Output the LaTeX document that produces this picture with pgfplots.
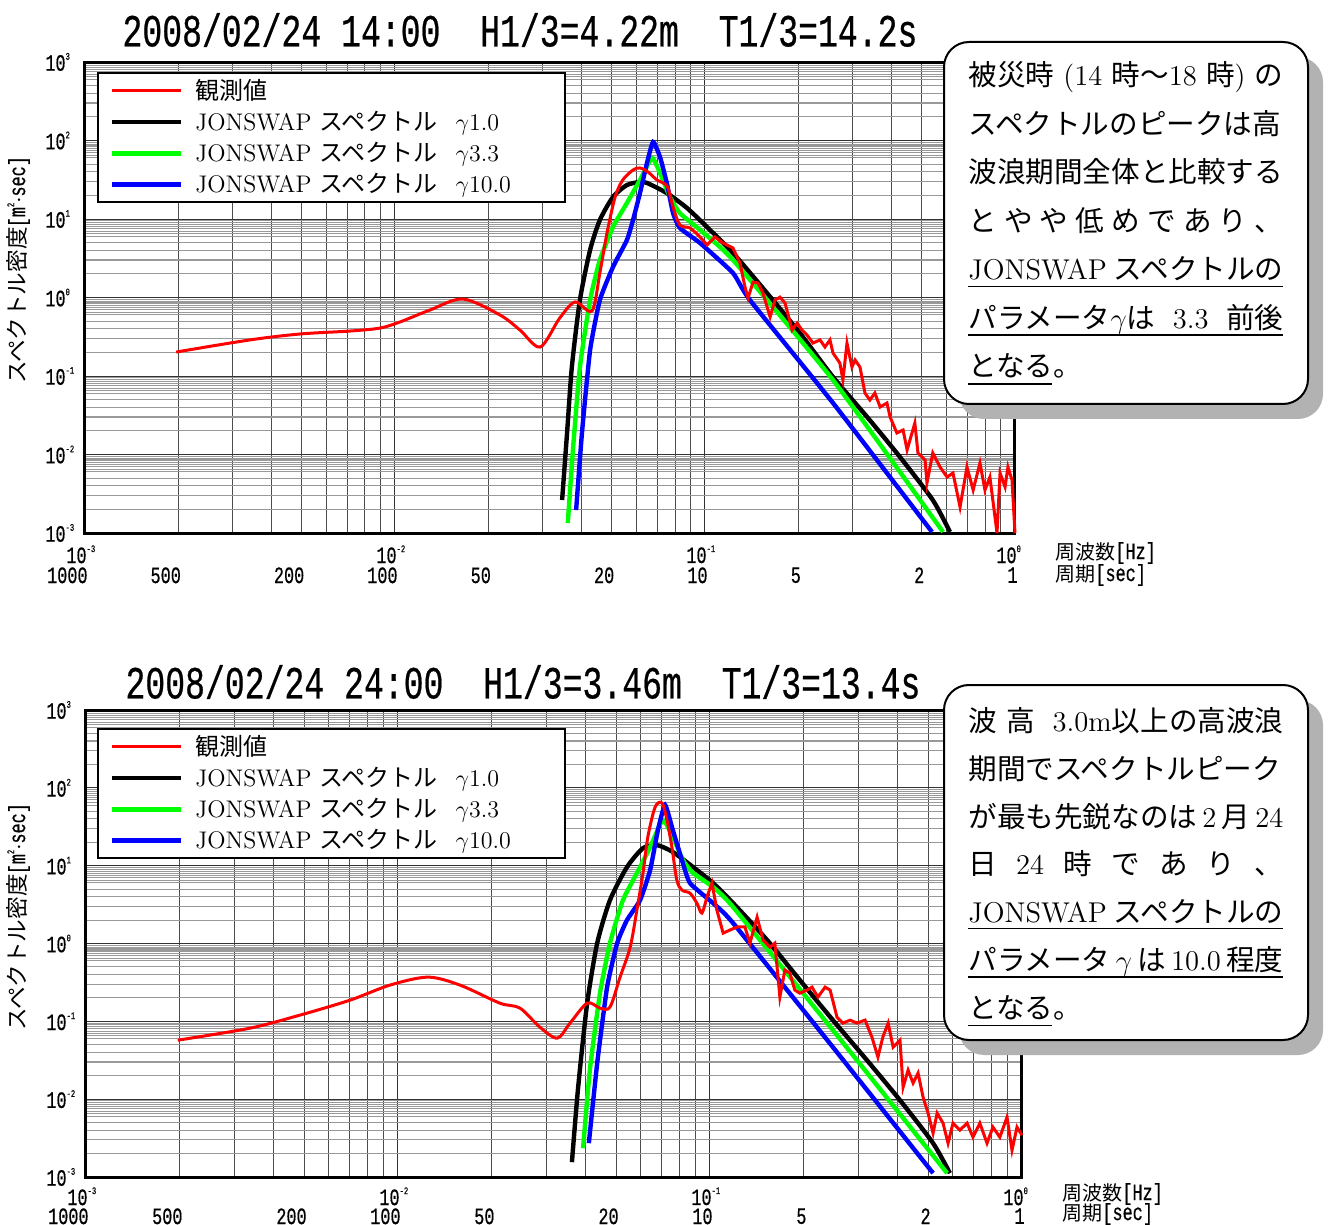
\documentclass[border=0pt]{standalone}
\usepackage{pgfplots}
\pgfplotsset{compat=1.18}
\usepackage{fontspec}
\newfontfamily\cjk{Noto Sans CJK JP}
\newfontfamily\tfont[FakeStretch=0.72,FakeBold=0.5]{Liberation Mono}
\newcommand\titlefont{\tfont\fontsize{23}{23}\selectfont}
\newcommand\tickfont{\tfont\fontsize{11.7}{11.7}\selectfont}
\newcommand\ex[1]{\rlap{\raisebox{5.5pt}{\tfont\fontsize{5}{5}\selectfont #1}}}
\newcommand\tl[1]{10\ex{#1}}
\newlength\bw \setlength\bw{157.5pt}
\newcommand\bl[1]{\hbox to \bw{#1}}
\definecolor{jgreen}{RGB}{0,255,0}
\definecolor{jblue}{RGB}{0,0,255}
\definecolor{jred}{RGB}{255,0,0}
\tikzset{ticklab/.style={inner sep=0pt, font=\tickfont}}

\begin{document}
\begin{tikzpicture}
\path[use as bounding box] (0,0) rectangle (665pt,-612.5pt);

% ---------------- Plot 1 ----------------
\begin{axis}[at={(42.5pt,-266.5pt)}, anchor=south west,
  width=465pt, height=235.5pt,
  xmode=log, ymode=log,
  xmin=1e-3, xmax=1, ymin=1e-3, ymax=1e3,
  scale only axis, clip=false,
  axis line style={line width=1.5pt},
  xtick={1e-3,1e-2,1e-1,1},
  ytick={1e-3,1e-2,1e-1,1,1e1,1e2,1e3},
  minor xtick={0.002,0.003,0.004,0.005,0.006,0.007,0.008,0.009,0.02,0.03,0.04,0.05,0.06,0.07,0.08,0.09,0.2,0.3,0.4,0.5,0.6,0.7,0.8,0.9},
  minor ytick={0.002,0.003,0.004,0.005,0.006,0.0065,0.007,0.0075,0.008,0.0085,0.009,0.0095,0.02,0.03,0.04,0.05,0.06,0.065,0.07,0.075,0.08,0.085,0.09,0.095,0.2,0.3,0.4,0.5,0.6,0.65,0.7,0.75,0.8,0.85,0.9,0.95,2,3,4,5,6,6.5,7,7.5,8,8.5,9,9.5,20,30,40,50,60,65,70,75,80,85,90,95,200,300,400,500,600,650,700,750,800,850,900,950},
  xticklabels={}, yticklabels={},
  major tick length=0pt, minor tick length=0pt,
  xmajorgrids, ymajorgrids, xminorgrids, yminorgrids,
  major grid style={black!80, line width=0.5pt},
  minor x grid style={black!70, line width=0.45pt},
  minor y grid style={black!40, line width=0.55pt},
  legend style={at={(0,1)}, anchor=north west, xshift=6pt, yshift=-5pt, draw=black, line width=1pt,
    fill=white, inner xsep=6pt, inner ysep=3pt, row sep=4.4pt,
    font=\fontsize{12}{12}\selectfont, nodes={inner sep=0pt}},
  legend cell align=left,
  legend image code/.code={\draw[#1] (0pt,0pt) -- (34.5pt,0pt); \path (40.5pt,0pt);},
  ]
\addlegendimage{jred, line width=1.6pt}
\addlegendentry{\makebox[179pt][l]{\cjk 観測値}}
\addlegendimage{black, line width=2.2pt}
\addlegendentry{\makebox[179pt][l]{JONSWAP {\cjk スペクトル}\hspace{9pt}$\gamma$1.0}}
\addlegendimage{jgreen, line width=2.2pt}
\addlegendentry{\makebox[179pt][l]{JONSWAP {\cjk スペクトル}\hspace{9pt}$\gamma$3.3}}
\addlegendimage{jblue, line width=2.2pt}
\addlegendentry{\makebox[179pt][l]{JONSWAP {\cjk スペクトル}\hspace{9pt}$\gamma$10.0}}

\addplot[black, line width=2.2pt, smooth, tension=0.4, forget plot] coordinates {
(0.0346,0.00263) (0.0359,0.0188) (0.0372,0.130) (0.0395,0.929) (0.0426,4.03)
(0.0458,9.71) (0.0505,19.1) (0.0560,27.1) (0.0617,29.6) (0.0650,28.8)
(0.0753,21.4) (0.0875,13.8) (0.1015,7.91) (0.1231,3.69) (0.1585,1.14)
(0.2023,0.353) (0.2588,0.0971) (0.3334,0.0301) (0.4256,0.00929) (0.543,0.00263) (0.617,0.00103)};
\addplot[jgreen, line width=2.2pt, smooth, tension=0.3, forget plot] coordinates {
(0.0361,0.00134) (0.0375,0.0114) (0.0395,0.130) (0.0426,0.929) (0.0458,3.01)
(0.0505,7.91) (0.0560,16.0) (0.0617,31.4) (0.0675,59.8) (0.0716,38.5)
(0.0771,19.1) (0.0830,11.9) (0.0964,7.24) (0.1231,3.01) (0.2588,0.0889) (0.586,0.00103)};
\addplot[jblue, line width=2.2pt, smooth, tension=0.3, forget plot] coordinates {
(0.0384,0.00196) (0.0401,0.0188) (0.0426,0.214) (0.0458,0.929) (0.0505,2.45)
(0.0560,5.40) (0.0586,9.71) (0.0617,21.4) (0.0650,51.7) (0.0680,95.7)
(0.0716,61.7) (0.0753,28.8) (0.0789,11.9) (0.0830,7.68) (0.0964,4.94)
(0.1231,2.05) (0.1396,0.929) (0.2588,0.0453) (0.540,0.00103)};
\addplot[jred, line width=1.5pt, smooth, tension=0.5, forget plot] coordinates {
(0.00197,0.202) (0.00340,0.288) (0.00494,0.343) (0.00716,0.374) (0.00895,0.408)
(0.01038,0.488) (0.01297,0.693) (0.01656,0.957) (0.02183,0.598) (0.0253,0.385)
(0.0294,0.234) (0.0340,0.548) (0.0381,0.877) (0.0432,0.673) (0.0458,2.05)
(0.0483,6.64) (0.0513,19.1) (0.0543,31.4) (0.0586,42.1) (0.0617,44.7)
(0.0655,39.7) (0.0700,31.4) (0.0733,28.8) (0.0760,24.8) (0.0789,14.2)
(0.0830,8.39) (0.0895,7.68) (0.0964,5.90)};
\addplot[jred, line width=1.5pt, forget plot] coordinates {
(0.0964,5.90) (0.1015,4.67) (0.1077,5.90)
(0.1143,4.94) (0.1231,4.27) (0.1297,2.75) (0.1346,1.36) (0.1377,0.986)
(0.1429,1.57) (0.1482,1.53) (0.1538,1.14) (0.1622,0.565) (0.1683,0.929)
(0.1746,1.01) (0.1812,0.851) (0.1910,0.385) (0.1982,0.473) (0.2056,0.385)
(0.2133,0.333) (0.2230,0.263) (0.2350,0.288) (0.2438,0.234) (0.2530,0.288)
(0.2588,0.196) (0.2723,0.1466) (0.2786,0.0889) (0.2871,0.263) (0.2979,0.130)
(0.3048,0.160) (0.3162,0.130) (0.3281,0.0607) (0.3404,0.0494) (0.3532,0.0607)
(0.3673,0.0403) (0.3864,0.0453) (0.3954,0.0301) (0.4159,0.0188) (0.4355,0.0205)
(0.4487,0.0114) (0.4753,0.0252) (0.4864,0.01045) (0.5129,0.00851) (0.520,0.00434)
(0.543,0.01045) (0.573,0.00693) (0.604,0.00516) (0.631,0.00581) (0.665,0.00214)
(0.700,0.00693) (0.733,0.00353) (0.771,0.00780) (0.800,0.00353) (0.830,0.00516)
(0.875,0.00100) (0.895,0.00581) (0.929,0.00386) (0.949,0.00693) (0.978,0.00473) (1.0,0.00100)};

\node[ticklab, anchor=east, xshift=-9.5pt] at (axis cs:1e-3,1e3) {\tl{3}};
\node[ticklab, anchor=east, xshift=-9.5pt] at (axis cs:1e-3,1e2) {\tl{2}};
\node[ticklab, anchor=east, xshift=-9.5pt] at (axis cs:1e-3,1e1) {\tl{1}};
\node[ticklab, anchor=east, xshift=-9.5pt] at (axis cs:1e-3,1) {\tl{0}};
\node[ticklab, anchor=east, xshift=-9.5pt] at (axis cs:1e-3,1e-1) {\tl{-1}};
\node[ticklab, anchor=east, xshift=-9.5pt] at (axis cs:1e-3,1e-2) {\tl{-2}};
\node[ticklab, anchor=east, xshift=-9.5pt] at (axis cs:1e-3,1e-3) {\tl{-3}};
\node[ticklab, anchor=north east, xshift=1pt, yshift=-6pt] at (axis cs:1e-3,1e-3) {\tl{-3}};
\node[ticklab, anchor=north east, xshift=1pt, yshift=-6pt] at (axis cs:1e-2,1e-3) {\tl{-2}};
\node[ticklab, anchor=north east, xshift=1pt, yshift=-6pt] at (axis cs:1e-1,1e-3) {\tl{-1}};
\node[ticklab, anchor=north east, xshift=1pt, yshift=-6pt] at (axis cs:1,1e-3) {\tl{0}};
\node[ticklab, anchor=north east, xshift=1.5pt, yshift=-17pt] at (axis cs:1e-3,1e-3) {1000};
\node[ticklab, anchor=north east, xshift=1.5pt, yshift=-17pt] at (axis cs:2e-3,1e-3) {500};
\node[ticklab, anchor=north east, xshift=1.5pt, yshift=-17pt] at (axis cs:5e-3,1e-3) {200};
\node[ticklab, anchor=north east, xshift=1.5pt, yshift=-17pt] at (axis cs:1e-2,1e-3) {100};
\node[ticklab, anchor=north east, xshift=1.5pt, yshift=-17pt] at (axis cs:2e-2,1e-3) {50};
\node[ticklab, anchor=north east, xshift=1.5pt, yshift=-17pt] at (axis cs:5e-2,1e-3) {20};
\node[ticklab, anchor=north east, xshift=1.5pt, yshift=-17pt] at (axis cs:1e-1,1e-3) {10};
\node[ticklab, anchor=north east, xshift=1.5pt, yshift=-17pt] at (axis cs:2e-1,1e-3) {5};
\node[ticklab, anchor=north east, xshift=1.5pt, yshift=-17pt] at (axis cs:5e-1,1e-3) {2};
\node[ticklab, anchor=north east, xshift=1.5pt, yshift=-17pt] at (axis cs:1,1e-3) {1};
\end{axis}

% ---------------- Plot 2 ----------------
\begin{axis}[at={(43pt,-588.5pt)}, anchor=south west,
  width=468pt, height=233.5pt,
  xmode=log, ymode=log,
  xmin=1e-3, xmax=1, ymin=1e-3, ymax=1e3,
  scale only axis, clip=false,
  axis line style={line width=1.5pt},
  xtick={1e-3,1e-2,1e-1,1},
  ytick={1e-3,1e-2,1e-1,1,1e1,1e2,1e3},
  minor xtick={0.002,0.003,0.004,0.005,0.006,0.007,0.008,0.009,0.02,0.03,0.04,0.05,0.06,0.07,0.08,0.09,0.2,0.3,0.4,0.5,0.6,0.7,0.8,0.9},
  minor ytick={0.002,0.003,0.004,0.005,0.006,0.0065,0.007,0.0075,0.008,0.0085,0.009,0.0095,0.02,0.03,0.04,0.05,0.06,0.065,0.07,0.075,0.08,0.085,0.09,0.095,0.2,0.3,0.4,0.5,0.6,0.65,0.7,0.75,0.8,0.85,0.9,0.95,2,3,4,5,6,6.5,7,7.5,8,8.5,9,9.5,20,30,40,50,60,65,70,75,80,85,90,95,200,300,400,500,600,650,700,750,800,850,900,950},
  xticklabels={}, yticklabels={},
  major tick length=0pt, minor tick length=0pt,
  xmajorgrids, ymajorgrids, xminorgrids, yminorgrids,
  major grid style={black!80, line width=0.5pt},
  minor x grid style={black!70, line width=0.45pt},
  minor y grid style={black!40, line width=0.55pt},
  legend style={at={(0,1)}, anchor=north west, xshift=5.5pt, yshift=-9pt, draw=black, line width=1pt,
    fill=white, inner xsep=6pt, inner ysep=3pt, row sep=4.4pt,
    font=\fontsize{12}{12}\selectfont, nodes={inner sep=0pt}},
  legend cell align=left,
  legend image code/.code={\draw[#1] (0pt,0pt) -- (34.5pt,0pt); \path (40.5pt,0pt);},
  ]
\addlegendimage{jred, line width=1.6pt}
\addlegendentry{\makebox[179pt][l]{\cjk 観測値}}
\addlegendimage{black, line width=2.2pt}
\addlegendentry{\makebox[179pt][l]{JONSWAP {\cjk スペクトル}\hspace{9pt}$\gamma$1.0}}
\addlegendimage{jgreen, line width=2.2pt}
\addlegendentry{\makebox[179pt][l]{JONSWAP {\cjk スペクトル}\hspace{9pt}$\gamma$3.3}}
\addlegendimage{jblue, line width=2.2pt}
\addlegendentry{\makebox[179pt][l]{JONSWAP {\cjk スペクトル}\hspace{9pt}$\gamma$10.0}}

\addplot[black, line width=2.2pt, smooth, tension=0.4, forget plot] coordinates {
(0.0361,0.00155) (0.0378,0.01426) (0.0404,0.1714) (0.0435,1.01) (0.0478,3.61)
(0.0542,9.59) (0.0610,16.8) (0.0676,18.4) (0.0760,15.0) (0.0883,9.59)
(0.1023,5.97) (0.1186,3.30) (0.1524,1.11) (0.1941,0.339) (0.2477,0.1036)
(0.3184,0.0317) (0.4064,0.00970) (0.5188,0.00272) (0.5875,0.00112)};
\addplot[jgreen, line width=2.2pt, smooth, tension=0.3, forget plot] coordinates {
(0.0392,0.00234) (0.0412,0.0236) (0.0444,0.230) (0.0478,1.01) (0.0526,3.61)
(0.0597,9.59) (0.0643,17.3) (0.0706,38.5) (0.0760,23.3) (0.0819,11.8)
(0.0883,8.04) (0.1023,5.31) (0.1186,2.94) (0.2477,0.0771) (0.5754,0.00112)};
\addplot[jblue, line width=2.2pt, smooth, tension=0.3, forget plot] coordinates {
(0.0409,0.00272) (0.0435,0.0290) (0.0468,0.275) (0.0504,1.01) (0.0542,2.00)
(0.0597,3.61) (0.0643,8.77) (0.0681,28.7) (0.0718,60.1) (0.0760,28.7)
(0.0813,11.8) (0.0863,5.97) (0.1023,3.30) (0.1186,1.83) (0.2477,0.0466) (0.5188,0.00112)};
\addplot[jred, line width=1.5pt, smooth, tension=0.5, forget plot] coordinates {
(0.00197,0.0573) (0.00336,0.0818) (0.00485,0.1202) (0.00702,0.1871) (0.00942,0.292)
(0.01247,0.370) (0.01581,0.292) (0.0212,0.1714) (0.0246,0.1479) (0.0285,0.0841)
(0.0324,0.0608) (0.0356,0.0948) (0.0404,0.1714) (0.0444,0.1479) (0.0478,0.1524)
(0.0515,0.370) (0.0555,0.899) (0.0583,2.69) (0.0610,8.04) (0.0632,23.3)
(0.0667,56.6) (0.0702,63.8) (0.0728,38.5) (0.0755,17.3) (0.0783,6.53)
(0.0813,4.85) (0.0863,4.44) (0.0908,3.30) (0.0942,2.46) (0.0977,3.94)};
\addplot[jred, line width=1.5pt, forget plot] coordinates {
(0.0977,3.94)
(0.1015,5.97) (0.1052,2.69) (0.1102,1.36) (0.1159,1.49) (0.1222,1.63)
(0.1294,1.63) (0.1343,1.01) (0.1416,2.18) (0.1479,1.11) (0.1556,0.899)
(0.1614,1.01) (0.1675,0.205) (0.1738,0.455) (0.1803,0.417) (0.1871,0.252)
(0.1941,0.230) (0.2046,0.252) (0.2123,0.275) (0.2218,0.205) (0.2339,0.275)
(0.2427,0.252) (0.2553,0.1132) (0.2667,0.0948) (0.2812,0.1036) (0.2958,0.0948)
(0.3141,0.1036) (0.3304,0.0627) (0.3454,0.0347) (0.3581,0.0627) (0.3724,0.0948)
(0.3864,0.0466) (0.4064,0.0573) (0.4159,0.01426) (0.4315,0.0236) (0.4477,0.0161)
(0.4645,0.0216) (0.4819,0.01062) (0.500,0.00661) (0.5188,0.00366) (0.5346,0.00661)
(0.5585,0.00492) (0.5794,0.00272) (0.6012,0.00492) (0.6324,0.00400) (0.6668,0.00492)
(0.6966,0.00325) (0.7328,0.00492) (0.7727,0.00272) (0.8072,0.00437) (0.8492,0.00325)
(0.8954,0.00587) (0.9290,0.00221) (0.9638,0.00437) (1.0,0.00344)};

\node[ticklab, anchor=east, xshift=-9.5pt] at (axis cs:1e-3,1e3) {\tl{3}};
\node[ticklab, anchor=east, xshift=-9.5pt] at (axis cs:1e-3,1e2) {\tl{2}};
\node[ticklab, anchor=east, xshift=-9.5pt] at (axis cs:1e-3,1e1) {\tl{1}};
\node[ticklab, anchor=east, xshift=-9.5pt] at (axis cs:1e-3,1) {\tl{0}};
\node[ticklab, anchor=east, xshift=-9.5pt] at (axis cs:1e-3,1e-1) {\tl{-1}};
\node[ticklab, anchor=east, xshift=-9.5pt] at (axis cs:1e-3,1e-2) {\tl{-2}};
\node[ticklab, anchor=east, xshift=-9.5pt] at (axis cs:1e-3,1e-3) {\tl{-3}};
\node[ticklab, anchor=north east, xshift=1pt, yshift=-5pt] at (axis cs:1e-3,1e-3) {\tl{-3}};
\node[ticklab, anchor=north east, xshift=1pt, yshift=-5pt] at (axis cs:1e-2,1e-3) {\tl{-2}};
\node[ticklab, anchor=north east, xshift=1pt, yshift=-5pt] at (axis cs:1e-1,1e-3) {\tl{-1}};
\node[ticklab, anchor=north east, xshift=1pt, yshift=-5pt] at (axis cs:1,1e-3) {\tl{0}};
\node[ticklab, anchor=north east, xshift=1.5pt, yshift=-15.5pt] at (axis cs:1e-3,1e-3) {1000};
\node[ticklab, anchor=north east, xshift=1.5pt, yshift=-15.5pt] at (axis cs:2e-3,1e-3) {500};
\node[ticklab, anchor=north east, xshift=1.5pt, yshift=-15.5pt] at (axis cs:5e-3,1e-3) {200};
\node[ticklab, anchor=north east, xshift=1.5pt, yshift=-15.5pt] at (axis cs:1e-2,1e-3) {100};
\node[ticklab, anchor=north east, xshift=1.5pt, yshift=-15.5pt] at (axis cs:2e-2,1e-3) {50};
\node[ticklab, anchor=north east, xshift=1.5pt, yshift=-15.5pt] at (axis cs:5e-2,1e-3) {20};
\node[ticklab, anchor=north east, xshift=1.5pt, yshift=-15.5pt] at (axis cs:1e-1,1e-3) {10};
\node[ticklab, anchor=north east, xshift=1.5pt, yshift=-15.5pt] at (axis cs:2e-1,1e-3) {5};
\node[ticklab, anchor=north east, xshift=1.5pt, yshift=-15.5pt] at (axis cs:5e-1,1e-3) {2};
\node[ticklab, anchor=north east, xshift=1.5pt, yshift=-15.5pt] at (axis cs:1,1e-3) {1};
\end{axis}

% ---------------- titles and axis labels ----------------
\node[font=\titlefont, inner sep=0pt] at (260pt,-15pt) {2008/02/24\ 14:00\ \ H1/3=4.22m\ \ T1/3=14.2s};
\node[font=\titlefont, inner sep=0pt] at (261.5pt,-341pt) {2008/02/24\ 24:00\ \ H1/3=3.46m\ \ T1/3=13.4s};

\node[rotate=90, inner sep=0pt] at (9pt,-135pt) {{\cjk\fontsize{11.3}{11.3}\selectfont スペクトル密度}{\tickfont[m\ex{2}\,$\cdot$sec]}};
\node[rotate=90, inner sep=0pt] at (9pt,-458.5pt) {{\cjk\fontsize{11.3}{11.3}\selectfont スペクトル密度}{\tickfont[m\ex{2}\,$\cdot$sec]}};

\node[anchor=west, inner sep=0pt] at (527.5pt,-276.5pt) {{\cjk\fontsize{10}{10}\selectfont 周波数}{\tickfont[Hz]}};
\node[anchor=west, inner sep=0pt] at (527.5pt,-287.5pt) {{\cjk\fontsize{10}{10}\selectfont 周期}{\tickfont[sec]}};
\node[anchor=west, inner sep=0pt] at (531pt,-597pt) {{\cjk\fontsize{10}{10}\selectfont 周波数}{\tickfont[Hz]}};
\node[anchor=west, inner sep=0pt] at (531pt,-607pt) {{\cjk\fontsize{10}{10}\selectfont 周期}{\tickfont[sec]}};

% ---------------- comment boxes ----------------
\tikzset{btxt/.style={anchor=base west, inner sep=0pt, font=\fontsize{14.3}{14.3}\selectfont}}
% box 1
\fill[black!30, rounded corners=12.5pt] (479.5pt,-28.5pt) rectangle (661.5pt,-209.5pt);
\draw[fill=white, line width=1pt, rounded corners=12.5pt] (472pt,-21pt) rectangle (654pt,-202pt);
\node[btxt] at (484pt,-43pt) {\bl{\cjk 被災時\hfil{\rmfamily (14}\hfil 時～{\rmfamily 18}\hfil 時{\rmfamily )}\hfil の}};
\node[btxt] at (484pt,-67.25pt) {\bl{\cjk スペクトルのピークは高\hfil}};
\node[btxt] at (484pt,-91.5pt) {\bl{\cjk 波浪期間全体と比較する\hfil}};
\node[btxt] at (484pt,-115.75pt) {\bl{\cjk と\hfil や\hfil や\hfil 低\hfil め\hfil で\hfil あ\hfil り\hfil 、}};
\node[btxt] at (484pt,-140pt) {\bl{\rmfamily JONSWAP\hfil{\cjk スペクトルの}}};
\node[btxt] at (484pt,-164.25pt) {\bl{\cjk パラメータ$\gamma$は\hfil{\rmfamily 3.3}\hfil 前後}};
\node[btxt] at (484pt,-188.5pt) {\cjk となる。};
\draw[line width=0.8pt] (484pt,-143.3pt) -- (641.5pt,-143.3pt);
\draw[line width=0.8pt] (484pt,-167.6pt) -- (641.5pt,-167.6pt);
\draw[line width=0.8pt] (484pt,-191.9pt) -- (526pt,-191.9pt);
% box 2
\fill[black!30, rounded corners=12.5pt] (479.5pt,-350pt) rectangle (661.5pt,-527.5pt);
\draw[fill=white, line width=1pt, rounded corners=12.5pt] (472pt,-342.5pt) rectangle (654pt,-520pt);
\node[btxt] at (484pt,-365.5pt) {\bl{\cjk 波\hfil 高\hfil\hfil{\rmfamily 3.0m}以上の高波浪}};
\node[btxt] at (484pt,-389.5pt) {\bl{\cjk 期間でスペクトルピーク\hfil}};
\node[btxt] at (484pt,-413.5pt) {\bl{\cjk が最も先鋭なのは\hfil{\rmfamily 2}\hfil 月\hfil{\rmfamily 24}}};
\node[btxt] at (484pt,-437pt) {\bl{\cjk 日\hfil{\rmfamily 24}\hfil 時\hfil で\hfil あ\hfil り\hfil 、}};
\node[btxt] at (484pt,-461pt) {\bl{\rmfamily JONSWAP\hfil{\cjk スペクトルの}}};
\node[btxt] at (484pt,-485pt) {\bl{\cjk パラメータ\hfil$\gamma$\hfil は\hfil{\rmfamily 10.0}\hfil 程度}};
\node[btxt] at (484pt,-509pt) {\cjk となる。};
\draw[line width=0.8pt] (484pt,-464.3pt) -- (641.5pt,-464.3pt);
\draw[line width=0.8pt] (484pt,-488.5pt) -- (641.5pt,-488.5pt);
\draw[line width=0.8pt] (484pt,-512.8pt) -- (526pt,-512.8pt);
\end{tikzpicture}
\end{document}
